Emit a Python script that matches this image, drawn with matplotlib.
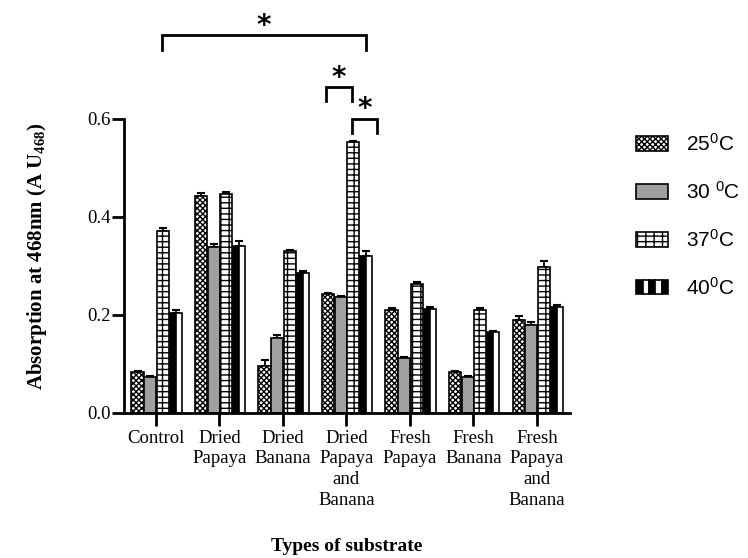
import matplotlib.pyplot as plt
from matplotlib.patches import Rectangle
from matplotlib.legend_handler import HandlerTuple
import numpy as np

# data
substrates = ['Control', 'Dried\nPapaya', 'Dried\nBanana', 'Dried\nPapaya\nand\nBanana',
              'Fresh\nPapaya', 'Fresh\nBanana', 'Fresh\nPapaya\nand\nBanana']
temps = ['25$^0$C', '30 $^0$C', '37$^0$C', '40$^0$C']
abs_25 = [0.083, 0.443, 0.095, 0.242, 0.211, 0.083, 0.190]
abs_30 = [0.073, 0.338, 0.152, 0.236, 0.113, 0.073, 0.179]
abs_37 = [0.372, 0.446, 0.330, 0.552, 0.264, 0.211, 0.297]
abs_40 = [0.203, 0.341, 0.286, 0.320, 0.213, 0.166, 0.216]
err_25 = [0.003, 0.006, 0.012, 0.003, 0.004, 0.002, 0.007]
err_30 = [0.002, 0.006, 0.006, 0.002, 0.002, 0.003, 0.006]
err_37 = [0.006, 0.005, 0.003, 0.003, 0.004, 0.003, 0.012]
err_40 = [0.006, 0.009, 0.003, 0.010, 0.003, 0.002, 0.004]

plt.rcParams['hatch.linewidth'] = 1.0
plt.rcParams['mathtext.fontset'] = 'custom'
plt.rcParams['mathtext.rm'] = 'Liberation Sans'
plt.rcParams['mathtext.it'] = 'Liberation Sans'
plt.rcParams['mathtext.bf'] = 'Liberation Serif:bold'

fig = plt.figure(figsize=(7.48, 5.58), dpi=100)
ax = fig.add_axes([0.166, 0.26, 0.596, 0.527])

x = np.arange(len(substrates))
w = 0.19
offsets = [-0.29, -0.09, 0.11, 0.31]
series = [abs_25, abs_30, abs_37, abs_40]
errors = [err_25, err_30, err_37, err_40]
checker = 'xxxxxx'
brick = '---||'
styles = [dict(color='white', hatch=checker),
          dict(color='#a0a0a4', hatch=None),
          dict(color='white', hatch=brick),
          dict(color='black', hatch=None)]

for vals, errs, off, st in zip(series, errors, offsets, styles):
    ax.errorbar(x + off, vals, yerr=[np.zeros(len(vals)), errs], fmt='none',
                ecolor='black', elinewidth=1.3, capsize=3, capthick=1.5, zorder=1)
    if st['color'] == 'black':
        # 40 C bars: left half black, right half white
        ax.bar(x + off - w / 4, vals, w / 2, color='black', edgecolor='black',
               linewidth=1.2, zorder=2)
        ax.bar(x + off + w / 4, vals, w / 2, color='white', edgecolor='black',
               linewidth=1.2, zorder=2)
    else:
        ax.bar(x + off, vals, w, color=st['color'], hatch=st['hatch'],
               edgecolor='black', linewidth=1.2, zorder=2)

ax.set_xlim(-0.5, 6.52)
ax.set_ylim(0, 0.6)
ax.set_yticks([0.0, 0.2, 0.4, 0.6])
ax.set_yticklabels(['0.0', '0.2', '0.4', '0.6'], family='Liberation Serif', fontsize=13.5)
ax.set_xticks(x)
ax.set_xticklabels(substrates, family='Liberation Serif', fontsize=13.5,
                   linespacing=1.28, va='top')
ax.tick_params(axis='x', length=9, width=2, pad=3)
ax.tick_params(axis='y', length=9, width=2, pad=1)
for s in ['top', 'right']:
    ax.spines[s].set_visible(False)
for s in ['left', 'bottom']:
    ax.spines[s].set_linewidth(2)

fig.text(0.05, 0.54, 'Absorption at 468nm (A U$_{\\mathbf{468}}$)', family='Liberation Serif',
         fontsize=15, fontweight='bold', rotation=90, ha='center', va='center')
fig.text(0.464, 0.012, 'Types of substrate', family='Liberation Serif',
         fontsize=14, fontweight='bold', ha='center', va='baseline')

# significance brackets
brackets = [(0.09, 3.31, 0.771, 0.741), (2.68, 3.09, 0.665, 0.637), (3.09, 3.48, 0.600, 0.571)]
for x0, x1, ytop, ybot in brackets:
    ax.plot([x0, x0, x1, x1], [ybot, ytop, ytop, ybot], color='black', lw=2,
            clip_on=False, solid_joinstyle='miter')
    ax.text((x0 + x1) / 2, ytop + 0.003, '*', ha='center', va='baseline',
            fontsize=20, fontweight='bold', clip_on=False)

# legend
h25 = Rectangle((0, 0), 1, 1, facecolor='white', hatch=checker, edgecolor='black', lw=1.2)
h30 = Rectangle((0, 0), 1, 1, facecolor='#a0a0a4', edgecolor='black', lw=1.2)
h37 = Rectangle((0, 0), 1, 1, facecolor='white', hatch=brick, edgecolor='black', lw=1.2)
h40 = tuple(Rectangle((0, 0), 1, 1, facecolor=c, edgecolor='black', lw=1.2)
            for c in ['black', 'white', 'black', 'white', 'black'])
fig.legend([h25, h30, h37, h40], temps, loc='upper left', bbox_to_anchor=(0.8255, 0.796),
           frameon=False, prop={'family': 'Liberation Sans', 'size': 15},
           handlelength=1.54, handleheight=0.72, labelspacing=1.25, handletextpad=0.87,
           handler_map={tuple: HandlerTuple(ndivide=None, pad=0)})

fig.savefig('out.png', dpi=100)
